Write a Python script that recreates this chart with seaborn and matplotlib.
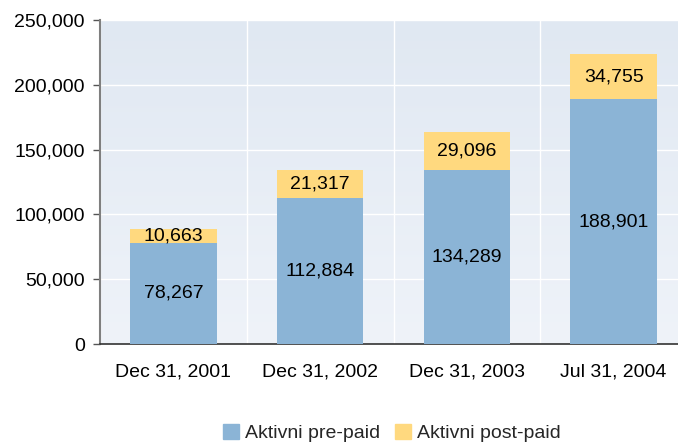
import numpy as np
import pandas as pd
import matplotlib
matplotlib.use("Agg")
import matplotlib.pyplot as plt
import matplotlib.ticker as mticker
from matplotlib.patches import Patch
import seaborn as sns

# Data
dates = ["Dec 31, 2001", "Dec 31, 2002", "Dec 31, 2003", "Jul 31, 2004"]
prepaid = [78267, 112884, 134289, 188901]
postpaid = [10663, 21317, 29096, 34755]

BLUE = "#8BB4D6"
YELLOW = "#FFD97F"
FS = 14

sns.set_theme(style="white")
plt.rcParams["font.family"] = ["Liberation Sans", "DejaVu Sans"]

df = pd.DataFrame({"date": dates, "prepaid": prepaid, "postpaid": postpaid})
df["total"] = df["prepaid"] + df["postpaid"]

fig = plt.figure(figsize=(6.78, 4.44), dpi=100)
# plot area runs slightly past the right edge of the image, as in the original
ax = fig.add_axes([100 / 678, 100 / 444, 587 / 678, 324 / 444])

# gradient background
grad = np.linspace(0, 1, 256).reshape(-1, 1)
cmap = matplotlib.colors.LinearSegmentedColormap.from_list("bg", ["#E0E8F2", "#EFF3F9"])
ax.imshow(grad, extent=[0, 1, 0, 1], transform=ax.transAxes, aspect="auto",
          cmap=cmap, zorder=0)

# stacked bars: total in yellow, pre-paid in blue on top of it
sns.barplot(data=df, x="date", y="total", color=YELLOW, width=0.59,
            saturation=1, linewidth=0, ax=ax, zorder=2)
sns.barplot(data=df, x="date", y="prepaid", color=BLUE, width=0.59,
            saturation=1, linewidth=0, ax=ax, zorder=3)

for i, row in df.iterrows():
    ax.text(i, row["prepaid"] / 2, f"{row['prepaid']:,}", ha="center", va="center",
            fontsize=FS, color="black", zorder=5)
    ax.text(i, row["prepaid"] + row["postpaid"] / 2, f"{row['postpaid']:,}",
            ha="center", va="center", fontsize=FS, color="black", zorder=5)

ax.set_xlim(-0.5, 3.5)
ax.set_ylim(0, 250000)
ax.yaxis.set_major_locator(mticker.MultipleLocator(50000))
ax.yaxis.set_major_formatter(mticker.FuncFormatter(lambda v, p: f"{int(v):,}"))
ax.set_xticks(np.arange(-0.5, 4, 1), minor=True)

ax.set_axisbelow(True)
ax.grid(True, axis="y", color="white", linewidth=1)
ax.grid(True, axis="x", which="minor", color="white", linewidth=1)
ax.grid(False, axis="x", which="major")

ax.set_xlabel("")
ax.set_ylabel("")
ax.tick_params(axis="x", which="major", length=0, pad=14, labelsize=FS, colors="black")
ax.tick_params(axis="x", which="minor", length=5, width=1, color="#333333", direction="out")
ax.tick_params(axis="y", length=5, width=1, color="#555555", direction="out",
               pad=6, labelsize=FS, left=True, labelcolor="black")

for s in ["top", "right"]:
    ax.spines[s].set_visible(False)
ax.spines["left"].set_color("#7F7F7F")
ax.spines["left"].set_linewidth(1.5)
ax.spines["bottom"].set_color("#333333")
ax.spines["bottom"].set_linewidth(1.2)

handles = [Patch(color=BLUE), Patch(color=YELLOW)]
fig.legend(handles, ["Aktivni pre-paid", "Aktivni post-paid"], loc="center",
           bbox_to_anchor=(392 / 678, 1 - 433 / 444), ncol=2, frameon=False,
           fontsize=FS, handlelength=0.8, handleheight=0.8, handletextpad=0.3,
           columnspacing=0.8)

fig.savefig("out.png", dpi=100)
